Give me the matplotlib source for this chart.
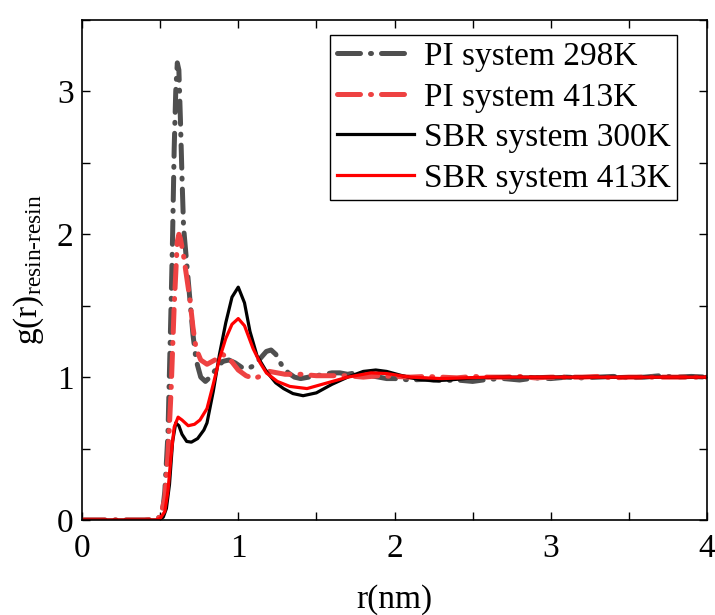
import matplotlib
matplotlib.use("Agg")
import matplotlib.pyplot as plt
from matplotlib.ticker import MultipleLocator

plt.rcParams['font.family'] = ['Liberation Serif', 'DejaVu Serif']
plt.rcParams['mathtext.fontset'] = 'custom'
plt.rcParams['mathtext.rm'] = 'Liberation Serif'
plt.rcParams['mathtext.it'] = 'Liberation Serif:italic'

# ---------------- data ----------------
pi298_r = [0.0, 0.1, 0.2, 0.3, 0.4, 0.46, 0.50, 0.52, 0.53, 0.55, 0.57, 0.58, 0.59,
           0.60, 0.61, 0.62, 0.63, 0.64, 0.65, 0.67, 0.69, 0.71, 0.73, 0.76, 0.79,
           0.82, 0.86, 0.90, 0.94, 0.98, 1.02, 1.06, 1.10, 1.14, 1.18, 1.21, 1.24,
           1.28, 1.32, 1.36, 1.40, 1.45, 1.50, 1.55, 1.60, 1.65, 1.70, 1.75, 1.80,
           1.85, 1.90, 1.95, 2.00, 2.10, 2.20, 2.30, 2.40, 2.50, 2.60, 2.70, 2.80,
           2.90, 3.00, 3.10, 3.20, 3.30, 3.40, 3.50, 3.60, 3.70, 3.80, 3.90, 4.00]
pi298_g = [0.0, 0.0, 0.0, 0.0, 0.0, 0.005, 0.02, 0.1, 0.2, 0.6, 1.5, 2.0, 2.6,
           3.0, 3.2, 3.15, 2.8, 2.4, 2.05, 1.8, 1.55, 1.3, 1.12, 1.0, 0.97,
           1.0, 1.06, 1.11, 1.12, 1.1, 1.07, 1.06, 1.08, 1.13, 1.18, 1.19, 1.16,
           1.08, 1.03, 1.0, 0.99, 1.0, 1.01, 1.02, 1.03, 1.03, 1.02, 1.03, 1.02,
           1.01, 1.0, 0.99, 0.99, 0.98, 0.985, 0.975, 0.98, 0.97, 0.985, 0.99, 0.98,
           0.995, 0.99, 1.0, 0.995, 1.0, 1.005, 0.995, 1.0, 1.01, 1.0, 1.005, 1.0]

pi413_r = [0.0, 0.1, 0.2, 0.3, 0.4, 0.46, 0.50, 0.53, 0.55, 0.57, 0.59, 0.61,
           0.62, 0.63, 0.65, 0.67, 0.69, 0.71, 0.73, 0.76, 0.80, 0.85, 0.90, 0.95,
           1.00, 1.05, 1.10, 1.15, 1.20, 1.25, 1.30, 1.40, 1.50, 1.60, 1.70, 1.80,
           1.90, 2.00, 2.10, 2.20, 2.30, 2.40, 2.50, 2.60, 2.70, 2.80, 2.90, 3.00,
           3.10, 3.20, 3.30, 3.40, 3.50, 3.60, 3.70, 3.80, 3.90, 4.00]
pi413_g = [0.0, 0.0, 0.0, 0.0, 0.0, 0.005, 0.02, 0.15, 0.45, 0.9, 1.5, 1.95,
           2.0, 1.97, 1.85, 1.7, 1.55, 1.35, 1.2, 1.12, 1.09, 1.12, 1.16, 1.12,
           1.05, 1.01, 0.99, 1.01, 1.04, 1.03, 1.02, 1.02, 1.01, 1.01, 1.01, 1.0,
           1.01, 1.005, 1.0, 1.005, 1.0, 0.995, 1.005, 1.0, 1.0, 1.005, 0.995, 1.0,
           1.0, 1.0, 1.005, 0.995, 1.0, 1.0, 1.0, 1.0, 1.0, 1.0]

sbr300_r = [0.0, 0.2, 0.4, 0.48, 0.50, 0.52, 0.54, 0.56, 0.58, 0.60, 0.62, 0.64,
            0.67, 0.70, 0.74, 0.78, 0.80, 0.84, 0.88, 0.92, 0.96, 1.00, 1.04,
            1.075, 1.12, 1.18, 1.24, 1.29, 1.35, 1.415, 1.50, 1.60, 1.70, 1.80,
            1.88, 1.95, 2.05, 2.15, 2.25, 2.35, 2.50, 2.70, 3.00, 3.50, 4.00]
sbr300_g = [0.0, 0.0, 0.0, 0.0, 0.005, 0.02, 0.08, 0.25, 0.55, 0.68, 0.66, 0.6,
            0.55, 0.545, 0.57, 0.63, 0.68, 0.9, 1.16, 1.38, 1.56, 1.63, 1.52,
            1.32, 1.15, 1.04, 0.96, 0.92, 0.885, 0.87, 0.89, 0.95, 1.0, 1.04,
            1.05, 1.04, 1.01, 0.985, 0.975, 0.98, 0.995, 1.0, 1.0, 1.0, 1.0]

sbr413_r = [0.0, 0.2, 0.4, 0.47, 0.50, 0.53, 0.55, 0.57, 0.59, 0.615, 0.64, 0.68,
            0.72, 0.755, 0.80, 0.84, 0.88, 0.92, 0.96, 1.00, 1.04, 1.095, 1.14,
            1.18, 1.25, 1.33, 1.44, 1.57, 1.70, 1.85, 1.95, 2.10, 2.30, 2.60,
            3.00, 3.50, 4.00]
sbr413_g = [0.0, 0.0, 0.0, 0.0, 0.01, 0.06, 0.2, 0.45, 0.65, 0.72, 0.7, 0.66,
            0.67, 0.7, 0.78, 0.95, 1.13, 1.27, 1.37, 1.41, 1.36, 1.2, 1.1,
            1.03, 0.97, 0.935, 0.92, 0.96, 1.0, 1.03, 1.025, 1.0, 0.99, 1.0,
            1.0, 1.0, 1.0]

labels = ['PI system 298K', 'PI system 413K', 'SBR system 300K', 'SBR system 413K']
x_ticks = [0, 1, 2, 3, 4]
y_ticks = [0, 1, 2, 3]

# ---------------- plot ----------------
fig = plt.figure(figsize=(7.15, 6.15), dpi=100)
ax = fig.add_axes([82/715, 1-520/615, (707-82)/715, (520-20)/615])

dd = (0, (4.6, 2.0, 0.2, 2.0))
ax.plot(pi298_r, pi298_g, color='#4f4f4f', lw=3.6, ls=dd,
        dash_capstyle='round', label=labels[0])
ax.plot(pi413_r, pi413_g, color='#ee4242', lw=3.6, ls=dd,
        dash_capstyle='round', label=labels[1])
ax.plot(sbr300_r, sbr300_g, color='black', lw=2.3, label=labels[2])
ax.plot(sbr413_r, sbr413_g, color='#ff0000', lw=2.3, label=labels[3])

ax.set_xlim(0, 4)
ax.set_ylim(0, 3.5)
ax.set_xticks(x_ticks)
ax.set_yticks(y_ticks)
ax.xaxis.set_minor_locator(MultipleLocator(0.5))
ax.yaxis.set_minor_locator(MultipleLocator(0.5))
ax.tick_params(which='both', direction='in', top=True, right=True,
               length=6, width=1.0, labelsize=24, pad=6)
ax.tick_params(axis='x', pad=10)
for s in ax.spines.values():
    s.set_linewidth(1.2)

ax.set_xlabel('r(nm)', fontsize=24, labelpad=14)
ax.set_ylabel(r'g(r)$_{\text{resin-resin}}$', fontsize=24, labelpad=8)

leg = ax.legend(loc='upper right', bbox_to_anchor=(677/715, 1-35/615),
                bbox_transform=fig.transFigure, fontsize=24, frameon=True,
                fancybox=False, edgecolor='black', framealpha=1,
                handlelength=2.3, handletextpad=0.3, labelspacing=0.3,
                borderpad=0.2, borderaxespad=0)
leg.get_frame().set_linewidth(1.0)

fig.savefig('out.png', dpi=100)
